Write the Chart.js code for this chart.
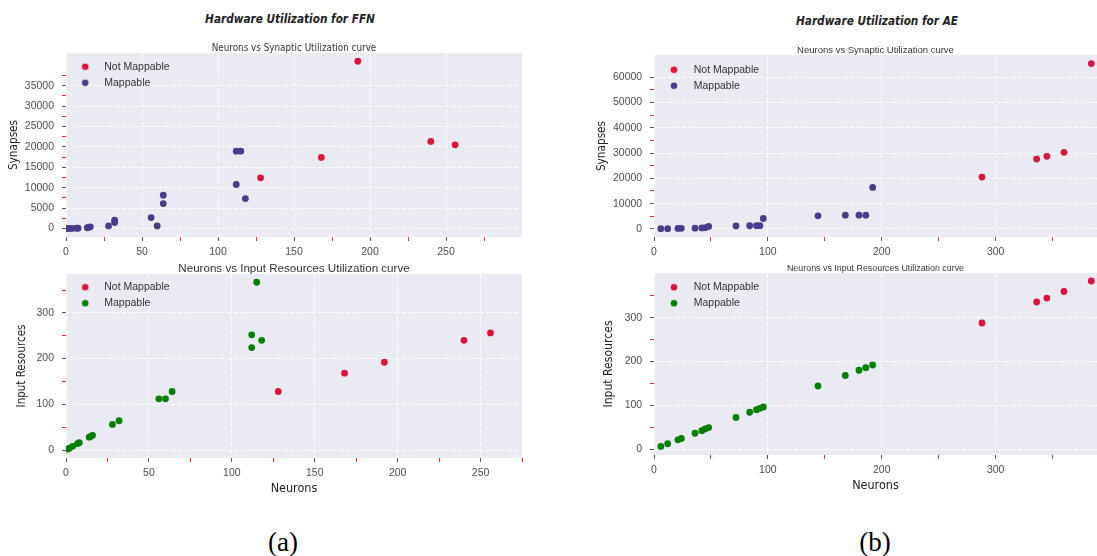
<!DOCTYPE html>
<html><head><meta charset="utf-8">
<script src="https://cdn.jsdelivr.net/npm/chart.js@4.4.1/dist/chart.umd.min.js"></script>
<style>
html,body{margin:0;padding:0;background:#fff;}
body{width:1097px;height:556px;position:relative;overflow:hidden;}
canvas{position:absolute;}
.sup{position:absolute;font-family:'DejaVu Sans Condensed','Liberation Sans',sans-serif;font-weight:bold;font-style:italic;font-size:11.7px;color:#222;transform:translate(-50%,-50%);white-space:nowrap;}
.cap{position:absolute;font-family:'Liberation Serif','DejaVu Serif',serif;font-size:27px;color:#000;transform:translate(-50%,-50%);white-space:nowrap;}
</style></head><body>
<div class="sup" style="left:290px;top:19px">Hardware Utilization for FFN</div>
<div class="sup" style="left:877px;top:21px">Hardware Utilization for AE</div>
<canvas id="c1" width="540" height="220" style="left:0px;top:38px"></canvas>
<canvas id="c2" width="540" height="247" style="left:0px;top:258px"></canvas>
<canvas id="c3" width="517" height="220" style="left:580px;top:38px"></canvas>
<canvas id="c4" width="517" height="247" style="left:580px;top:258px"></canvas>
<div class="cap" style="left:283px;top:542px">(a)</div>
<div class="cap" style="left:875px;top:542px">(b)</div>
<script>
// ---------- DATA ----------
const seriesNames = ['Not Mappable', 'Mappable'];
const notMapColor = '#DC143C';
const synMapColor = '#483D8B';
const inMapColor = '#008000';

// (a) FFN: Neurons vs Synapses
const ffnSynNotNeurons = [128, 168, 192, 240, 256];
const ffnSynNotValues  = [12420, 17420, 40980, 21350, 20520];
const ffnSynMapNeurons = [1, 2, 4, 7, 8, 14, 15, 16, 28, 32, 32, 56, 60, 64, 64, 112, 112, 115, 118];
const ffnSynMapValues  = [10, 20, 40, 80, 100, 200, 300, 420, 640, 1470, 2040, 2700, 640, 6130, 8170, 10800, 18970, 18970, 7360];

// (a) FFN: Neurons vs Input Resources
const ffnInNotNeurons = [128, 168, 192, 240, 256];
const ffnInNotValues  = [128, 168, 192, 240, 256];
const ffnInMapNeurons = [1, 2, 4, 7, 8, 14, 15, 16, 28, 32, 56, 60, 64, 112, 112, 115, 118];
const ffnInMapValues  = [2, 4, 8, 14, 16, 28, 30, 32, 56, 64, 112, 112, 128, 252, 224, 367, 240];

// (b) AE: Neurons vs Synapses
const aeSynNotNeurons = [288, 336, 345, 360, 384];
const aeSynNotValues  = [20500, 27640, 28700, 30290, 65420];
const aeSynMapNeurons = [6, 12, 21, 24, 36, 42, 45, 48, 72, 84, 90, 93, 96, 144, 168, 180, 186, 192];
const aeSynMapValues  = [80, 100, 200, 250, 300, 400, 500, 1000, 1200, 1250, 1300, 1300, 4120, 5160, 5430, 5430, 5430, 16400];

// (b) AE: Neurons vs Input Resources
const aeInNotNeurons = [288, 336, 345, 360, 384];
const aeInNotValues  = [288, 336, 345, 360, 384];
const aeInMapNeurons = [6, 12, 21, 24, 36, 42, 45, 48, 72, 84, 90, 93, 96, 144, 168, 180, 186, 192];
const aeInMapValues  = [6, 12, 21, 24, 36, 42, 46, 49, 72, 84, 90, 93, 96, 144, 168, 180, 186, 192];

// ticks
const ffnXMajor = [0, 50, 100, 150, 200, 250];
const ffnXMinor = [25, 75, 125, 175, 225, 275];
const ffnSynYMajor = [0, 5000, 10000, 15000, 20000, 25000, 30000, 35000];
const ffnSynYMinor = [2500, 7500, 12500, 17500, 22500, 27500, 32500, 37500];
const inYMajor = [0, 100, 200, 300];
const inYMinor = [50, 150, 250, 350];
const aeXMajor = [0, 100, 200, 300];
const aeXMinor = [50, 150, 250, 350];
const aeSynYMajor = [0, 10000, 20000, 30000, 40000, 50000, 60000];
const aeSynYMinor = [5000, 15000, 25000, 35000, 45000, 55000];

const titles = {
  ffnSyn: 'Neurons vs Synaptic Utilization curve',
  ffnIn: 'Neurons vs Input Resources Utilization curve',
  aeSyn: 'Neurons vs Synaptic Utilization curve',
  aeIn: 'Neurons vs Input Resources Utilization curve'
};

// ---------- RENDERING ----------
const NARROW = "'DejaVu Sans Condensed','Liberation Sans',sans-serif";
const SANS = "'Liberation Sans', Arial, sans-serif";
Chart.defaults.font.family = SANS;

const bgPlugin = {
  id: 'plotBg',
  beforeDraw(chart) {
    const a = chart.chartArea, ctx = chart.ctx;
    ctx.save();
    ctx.fillStyle = '#EAEAF2';
    ctx.fillRect(a.left, a.top, a.right - a.left, a.bottom - a.top);
    ctx.restore();
  }
};

function dotImage(color) {
  const c = document.createElement('canvas');
  c.width = 8; c.height = 8;
  const g = c.getContext('2d');
  g.fillStyle = color;
  g.beginPath(); g.arc(4, 4, 3.3, 0, Math.PI * 2); g.fill();
  return c;
}

function axis(min, max, major, minor, tickPad, fitFn, title) {
  const all = major.concat(minor).sort((a, b) => a - b);
  const majorSet = new Set(major);
  const isMajor = c => c.tick && majorSet.has(c.tick.value);
  const o = {
    type: 'linear', min, max, bounds: 'data',
    afterBuildTicks: s => { s.ticks = all.map(v => ({ value: v })); },
    afterFit: fitFn,
    ticks: { autoSkip: false, maxRotation: 0, color: '#4d4d4d', font: { size: 10.5 }, padding: tickPad,
             callback: v => majorSet.has(v) ? String(v) : '' },
    grid: { color: c => isMajor(c) ? '#ffffff' : 'rgba(0,0,0,0)',
            tickColor: c => isMajor(c) ? '#555555' : '#ff2020',
            tickLength: 4, lineWidth: 1, borderDash: [4.5, 2.5] },
    border: { display: false, dash: [4.5, 2.5] }
  };
  if (title) o.title = title;
  return o;
}

function panel(id, p) {
  const ds = (label, xs, ys, color) => ({
    label, data: xs.map((x, i) => ({ x, y: ys[i] })),
    backgroundColor: color, borderColor: color, borderWidth: 0,
    pointRadius: 3.4, pointHoverRadius: 3.4
  });
  const relTop = p.titleSize + p.titlePadTop + p.titlePadBottom;
  new Chart(document.getElementById(id), {
    type: 'scatter',
    data: { datasets: [
      ds(seriesNames[0], p.notX, p.notY, notMapColor),
      ds(seriesNames[1], p.mapX, p.mapY, p.mapColor)
    ] },
    options: {
      responsive: false, animation: false, devicePixelRatio: 1, events: [],
      layout: { padding: { left: 0, right: p.padRight, top: 0, bottom: 0 }, autoPadding: false },
      plugins: {
        tooltip: { enabled: false },
        title: { display: true, text: p.title, fullSize: false, color: '#333',
                 font: { family: p.titleFamily, size: p.titleSize, weight: 'normal', lineHeight: 1 },
                 padding: { top: p.titlePadTop, bottom: p.titlePadBottom } },
        legend: {
          position: 'chartArea', align: 'start',
          title: { display: true, text: '', font: { size: 1, lineHeight: 1 },
                   padding: { top: relTop + p.legendDy, bottom: 0 } },
          labels: {
            usePointStyle: true, pointStyleWidth: p.legendBoxW, boxHeight: 8, padding: 5.5,
            color: '#333', font: { size: 10.5 },
            generateLabels: chart => {
              const items = Chart.defaults.plugins.legend.labels.generateLabels(chart);
              items.forEach(it => { it.pointStyle = dotImage(chart.data.datasets[it.datasetIndex].backgroundColor); });
              return items;
            }
          }
        }
      },
      scales: {
        x: axis(p.xMin, p.xMax, p.xMajor, p.xMinor, 4.5, s => { s.height = p.xHeight; }, p.xTitle),
        y: axis(p.yMin, p.yMax, p.yMajor, p.yMinor, p.yTickPad, s => { s.width = p.yWidth; }, p.yTitle)
      }
    },
    plugins: [bgPlugin]
  });
}

const neuronsTitle = pb => ({ display: true, text: 'Neurons', color: '#222',
  font: { family: NARROW, size: 12.5 }, padding: { top: 0, bottom: pb } });
const yTitle = (text, size, pt) => ({ display: true, text, color: '#222',
  font: { family: NARROW, size }, padding: { top: pt, bottom: 0 } });

panel('c1', {
  notX: ffnSynNotNeurons, notY: ffnSynNotValues, mapX: ffnSynMapNeurons, mapY: ffnSynMapValues, mapColor: synMapColor,
  title: titles.ffnSyn, titleFamily: NARROW, titleSize: 9.8, titlePadTop: 5.4, titlePadBottom: -0.2,
  legendDy: 2, legendBoxW: 27.5,
  padRight: 18, xMin: 0, xMax: 300, xMajor: ffnXMajor, xMinor: ffnXMinor, xHeight: 21,
  yMin: -2060, yMax: 43000, yMajor: ffnSynYMajor, yMinor: ffnSynYMinor, yWidth: 66, yTickPad: 8,
  yTitle: yTitle('Synapses', 11.7, 6.8)
});
panel('c2', {
  notX: ffnInNotNeurons, notY: ffnInNotValues, mapX: ffnInMapNeurons, mapY: ffnInMapValues, mapColor: inMapColor,
  title: titles.ffnIn, titleFamily: SANS, titleSize: 11.6, titlePadTop: 5.2, titlePadBottom: -0.8,
  legendDy: 1.5, legendBoxW: 27.5,
  padRight: 18, xMin: 0, xMax: 275, xMajor: ffnXMajor, xMinor: ffnXMinor, xHeight: 47, xTitle: neuronsTitle(8.5),
  yMin: -17.5, yMax: 385, yMajor: inYMajor, yMinor: inYMinor, yWidth: 66, yTickPad: 8,
  yTitle: yTitle('Input Resources', 11.5, 15.1)
});
panel('c3', {
  notX: aeSynNotNeurons, notY: aeSynNotValues, mapX: aeSynMapNeurons, mapY: aeSynMapValues, mapColor: synMapColor,
  title: titles.aeSyn, titleFamily: SANS, titleSize: 9.5, titlePadTop: 7.95, titlePadBottom: -0.45,
  legendDy: 3, legendBoxW: 29,
  padRight: 0, xMin: 0, xMax: 389, xMajor: aeXMajor, xMinor: aeXMinor, xHeight: 21,
  yMin: -3200, yMax: 68800, yMajor: aeSynYMajor, yMinor: aeSynYMinor, yWidth: 74, yTickPad: 7.8,
  yTitle: yTitle('Synapses', 11.7, 15)
});
panel('c4', {
  notX: aeInNotNeurons, notY: aeInNotValues, mapX: aeInMapNeurons, mapY: aeInMapValues, mapColor: inMapColor,
  title: titles.aeIn, titleFamily: SANS, titleSize: 8.9, titlePadTop: 5.85, titlePadBottom: 0.25,
  legendDy: 2.5, legendBoxW: 29,
  padRight: 0, xMin: 0, xMax: 389, xMajor: aeXMajor, xMinor: aeXMinor, xHeight: 50, xTitle: neuronsTitle(11.5),
  yMin: -13.7, yMax: 402.3, yMajor: inYMajor, yMinor: inYMinor, yWidth: 74, yTickPad: 7.8,
  yTitle: yTitle('Input Resources', 12.1, 21.7)
});
</script>
</body></html>
